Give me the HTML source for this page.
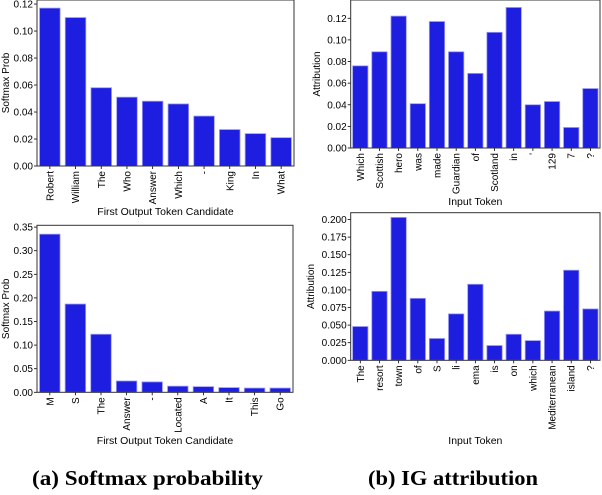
<!DOCTYPE html>
<html><head><meta charset="utf-8"><style>
body{margin:0;background:#fff;width:602px;height:490px;overflow:hidden}
svg text{font-family:"Liberation Sans",sans-serif;fill:#000}
svg text.cap{font-family:"Liberation Serif",serif;font-weight:bold;font-size:21px}
</style></head><body>
<svg id="fig" width="602" height="490" xmlns="http://www.w3.org/2000/svg">
<text class="cap" x="32" y="485" textLength="231" lengthAdjust="spacingAndGlyphs">(a) Softmax probability</text>
<text class="cap" x="368" y="485" textLength="170" lengthAdjust="spacingAndGlyphs">(b) IG attribution</text>
</svg>
<script>
const catsA=["Robert","William","The","Who","Answer","Which","-","King","In","What"];
const valsA=[0.117,0.110,0.058,0.051,0.048,0.046,0.037,0.027,0.024,0.021];
const ticksA=["0.00","0.02","0.04","0.06","0.08","0.10","0.12"];
const catsB=["Which","Scottish","hero","was","made","Guardian","of","Scotland","in","'","129","7","?"];
const valsB=[0.076,0.089,0.122,0.041,0.117,0.089,0.069,0.107,0.130,0.040,0.043,0.019,0.055];
const ticksB=["0.00","0.02","0.04","0.06","0.08","0.10","0.12"];
const catsC=["M","S","The","Answer","-","Located","A","It","This","Go"];
const valsC=[0.335,0.187,0.123,0.024,0.022,0.013,0.012,0.010,0.009,0.009];
const ticksC=["0.00","0.05","0.10","0.15","0.20","0.25","0.30","0.35"];
const catsD=["The","resort","town","of","S","li","ema","is","on","which","Mediterranean","island","?"];
const valsD=[0.048,0.098,0.203,0.088,0.031,0.066,0.108,0.021,0.037,0.028,0.070,0.128,0.073];
const ticksD=["0.000","0.025","0.050","0.075","0.100","0.125","0.150","0.175","0.200"];

const NS="http://www.w3.org/2000/svg";
const svg=document.getElementById('fig');
function mk(tag,attrs,parent){const e=document.createElementNS(NS,tag);for(const k in attrs)e.setAttribute(k,attrs[k]);(parent||svg).appendChild(e);return e;}
function chart(id,cats,vals,ticks,x0,x1,yTop,yBot,ymax,ylabel,xlabel,xlY,ylX){
  const g=mk('g',{});
  
  
  const ys=v=>yBot-(v/ymax)*(yBot-yTop);
  const band=(x1-x0)/cats.length;
  const xs=i=>x0+band*(i+0.5);
  cats.forEach((c,i)=>{
    const r=mk('rect',{x:xs(i)-band*0.4,y:ys(vals[i]),width:band*0.8,height:yBot-ys(vals[i]),fill:'#1e1ee0',stroke:'#9a9af5','stroke-width':0.8},g);
    
    
    mk('line',{x1:xs(i),x2:xs(i),y1:yBot,y2:yBot+3,stroke:'#000','stroke-width':0.8},g);
    const t=mk('text',{x:0,y:0,'font-size':10,'text-anchor':'end',transform:`translate(${xs(i)+3.5},${yBot+5}) rotate(-90)`},g);
    t.textContent=c;
    
    
  });
  ticks.forEach(s=>{
    const v=parseFloat(s),y=ys(v);
    mk('line',{x1:x0-3,x2:x0,y1:y,y2:y,stroke:'#000','stroke-width':0.8},g);
    const t=mk('text',{x:x0-4,y:y+3.5,'font-size':10,'text-anchor':'end'},g);
    t.textContent=s;
    
    
  });
  const f=mk('rect',{x:x0,y:yTop,width:x1-x0,height:yBot-yTop,fill:'none',stroke:'#333','stroke-width':1},g);
  
  
  const yl=mk('text',{x:0,y:0,'font-size':10,'text-anchor':'middle',transform:`translate(${ylX},${(yTop+yBot)/2}) rotate(-90)`},g);
  yl.textContent=ylabel;
  
  
  const xl=mk('text',{x:(x0+x1)/2,y:xlY,'font-size':10.5,'text-anchor':'middle'},g);
  xl.textContent=xlabel;
  
  
}
chart('chart-softmax-top',catsA,valsA,ticksA,37,294,0,166,0.123,'Softmax Prob','First Output Token Candidate',215,9);
chart('chart-ig-top',catsB,valsB,ticksB,350.7,600,0,148,0.1369,'Attribution','Input Token',205,320);
chart('chart-softmax-bottom',catsC,valsC,ticksC,37,293,225.3,392.3,0.3538,'Softmax Prob','First Output Token Candidate',444,9);
chart('chart-ig-bottom',catsD,valsD,ticksD,350.7,600,212.7,360.3,0.2097,'Attribution','Input Token',444,314);
</script>
</body></html>
